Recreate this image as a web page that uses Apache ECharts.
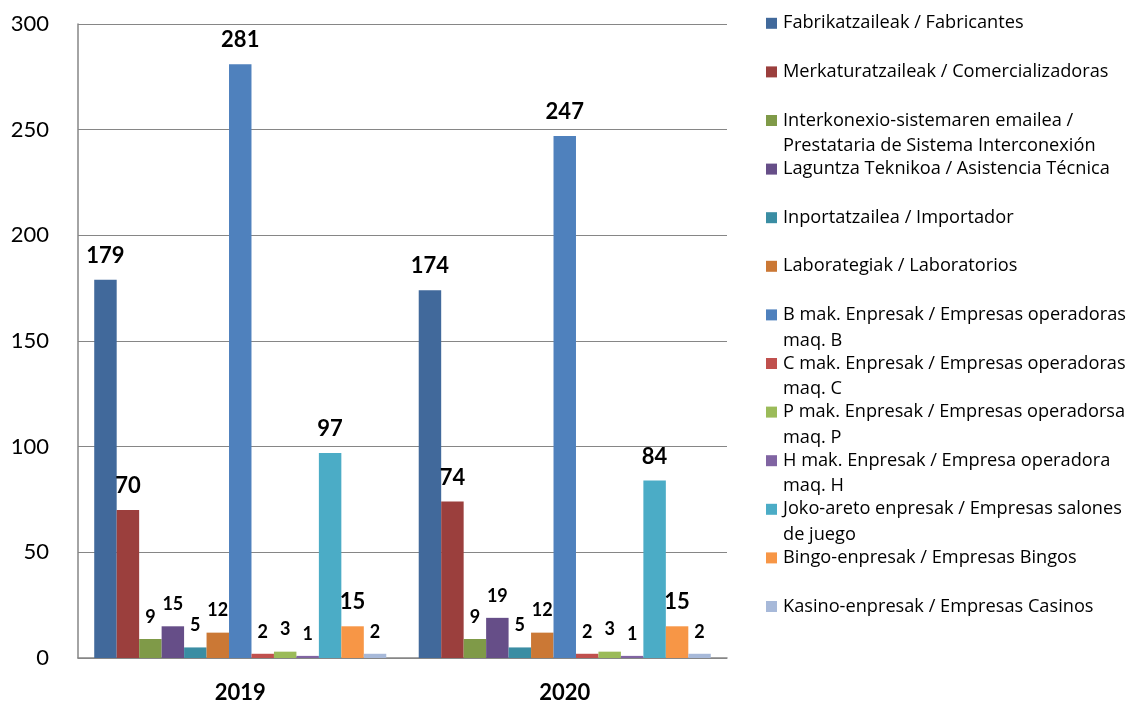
<!DOCTYPE html>
<html>
<head>
<meta charset="utf-8">
<script src="https://cdn.jsdelivr.net/npm/echarts@6/dist/echarts.min.js"></script>
<style>html,body{margin:0;padding:0;background:#fff;}#c{width:1139px;height:704px;}</style>
</head>
<body>
<div id="c"></div>
<script>
const categories = ['2019', '2020'];
const seriesNames = [
  'Fabrikatzaileak / Fabricantes',
  'Merkaturatzaileak / Comercializadoras',
  'Interkonexio-sistemaren emailea /\nPrestataria de Sistema Interconexión',
  'Laguntza Teknikoa / Asistencia Técnica',
  'Inportatzailea / Importador',
  'Laborategiak / Laboratorios',
  'B mak. Enpresak / Empresas operadoras\nmaq. B',
  'C mak. Enpresak / Empresas operadoras\nmaq. C',
  'P mak. Enpresak / Empresas operadorsa\nmaq. P',
  'H mak. Enpresak / Empresa operadora\nmaq. H',
  'Joko-areto enpresak / Empresas salones\nde juego',
  'Bingo-enpresak / Empresas Bingos',
  'Kasino-enpresak / Empresas Casinos'
];
const values2019 = [179, 70, 9, 15, 5, 12, 281, 2, 3, 1, 97, 15, 2];
const values2020 = [174, 74, 9, 19, 5, 12, 247, 2, 3, 1, 84, 15, 2];
const yTicks = { min: 0, max: 300, interval: 50 };

const colors = ['#41699B', '#9B3F3D', '#7F9A48', '#664E88', '#3A8DA3', '#CB7835',
                '#4F81BD', '#C0504D', '#9BBB59', '#8064A2', '#4BACC6', '#F79646', '#A7B9D9'];
const bigLabel = [true, true, false, false, false, false, true, false, false, false, true, true, false];

const legendTop0 = 23.3, legendStep = 48.6, secondLineOffset = 25.5;
const legendText = { fontFamily: 'Open Sans', fontSize: 18.2, color: '#000', lineHeight: 22, padding: [0, 0, 0, 1] };
const legends = [];
seriesNames.forEach((name, i) => {
  const c = legendTop0 + i * legendStep;
  legends.push({
    orient: 'vertical', left: 766, top: c - 11,
    itemWidth: 11, itemHeight: 11, itemGap: 0, padding: 0,
    data: [{ name: name, icon: 'rect' }],
    formatter: n => n.split('\n')[0],
    textStyle: legendText
  });
  if (name.indexOf('\n') >= 0) {
    legends.push({
      orient: 'vertical', left: 766, top: c - 11 + secondLineOffset,
      itemWidth: 11, itemHeight: 11, itemGap: 0, padding: 0,
      data: [{ name: name, icon: 'none' }],
      formatter: n => n.split('\n')[1],
      textStyle: legendText
    });
  }
});

const series = seriesNames.map((name, i) => ({
  name: name,
  type: 'bar',
  data: [values2019[i], values2020[i]],
  itemStyle: { color: colors[i] },
  barGap: '0%',
  barCategoryGap: '10%',
  label: {
    show: true, position: 'top', distance: 13,
    fontFamily: 'Lato', fontWeight: 'bold',
    fontSize: bigLabel[i] ? 22 : 18, color: '#000'
  }
}));

const chart = echarts.init(document.getElementById('c'), null, { renderer: 'canvas' });
chart.setOption({
  animation: false,
  backgroundColor: '#fff',
  textStyle: { fontFamily: 'Lato' },
  legend: legends,
  grid: { left: 78, right: 412, top: 24, bottom: 45, containLabel: false },
  xAxis: {
    type: 'category', data: categories,
    axisLine: { show: true, lineStyle: { color: '#868686', width: 1.5 } },
    axisTick: { show: false },
    axisLabel: { fontFamily: 'Lato', fontWeight: 'bold', fontSize: 22, color: '#000', margin: 24 }
  },
  yAxis: {
    type: 'value', min: yTicks.min, max: yTicks.max, interval: yTicks.interval,
    axisLine: { show: true, lineStyle: { color: '#868686', width: 1.5 } },
    axisTick: { show: false },
    splitLine: { show: true, lineStyle: { color: '#868686', width: 1.2 } },
    axisLabel: { fontFamily: 'Lato', fontSize: 22, color: '#000', margin: 29 }
  },
  series: series
});
</script>
</body>
</html>
